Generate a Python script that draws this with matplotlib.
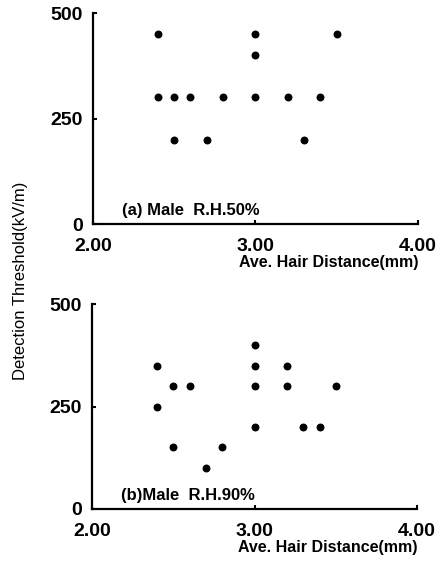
import matplotlib
matplotlib.use('Agg')
import matplotlib.pyplot as plt

plt.rcParams['font.family'] = ['Liberation Sans', 'DejaVu Sans']

# (a) Male R.H.50%
dist_a = [2.4, 2.4, 2.5, 2.5, 2.6, 2.7, 2.8, 3.0, 3.0, 3.0, 3.2, 3.3, 3.4, 3.5]
thr_a = [450, 300, 300, 200, 300, 200, 300, 450, 400, 300, 300, 200, 300, 450]

# (b) Male R.H.90%
dist_b = [2.4, 2.4, 2.5, 2.5, 2.6, 2.7, 2.8, 3.0, 3.0, 3.0, 3.0, 3.2, 3.2, 3.3, 3.4, 3.5]
thr_b = [350, 250, 300, 150, 300, 100, 150, 400, 350, 300, 200, 350, 300, 200, 200, 300]

x_ticks = [2.0, 3.0, 4.0]
x_ticklabels = ['2.00', '3.00', '4.00']
y_ticks = [0, 250, 500]
labels = ['(a) Male  R.H.50%', '(b)Male  R.H.90%']

fig = plt.figure(figsize=(4.4, 5.61), dpi=100)
ax_a = fig.add_axes([0.211, 0.6007, 0.739, 0.376])
ax_b = fig.add_axes([0.209, 0.0927, 0.739, 0.3654])

for ax, xs, ys, lab in [(ax_a, dist_a, thr_a, labels[0]), (ax_b, dist_b, thr_b, labels[1])]:
    ax.scatter(xs, ys, s=22, color='black', zorder=3, clip_on=False)
    ax.set_xlim(2.0, 4.0)
    ax.set_ylim(0, 500)
    ax.set_xticks(x_ticks)
    ax.set_xticklabels(x_ticklabels)
    ax.set_yticks(y_ticks)
    ax.spines['top'].set_visible(False)
    ax.spines['right'].set_visible(False)
    for s in ['left', 'bottom']:
        ax.spines[s].set_linewidth(1.6)
    ax.tick_params(direction='in', length=3, width=1.5, labelsize=14)
    ax.tick_params(axis='x', pad=10)
    ax.tick_params(axis='y', pad=7)
    for t in ax.get_xticklabels() + ax.get_yticklabels():
        t.set_fontweight('bold')
    ax.text(2.18, 33, lab, fontsize=12, fontweight='bold', va='center', ha='left')
    ax.set_xlabel('Ave. Hair Distance(mm)', fontsize=11.5, fontweight='bold',
                  loc='right', labelpad=0)

fig.text(0.046, 0.499, 'Detection Threshold(kV/m)', rotation=90, fontsize=12,
         va='center', ha='center')

plt.savefig('out.png', dpi=100)
